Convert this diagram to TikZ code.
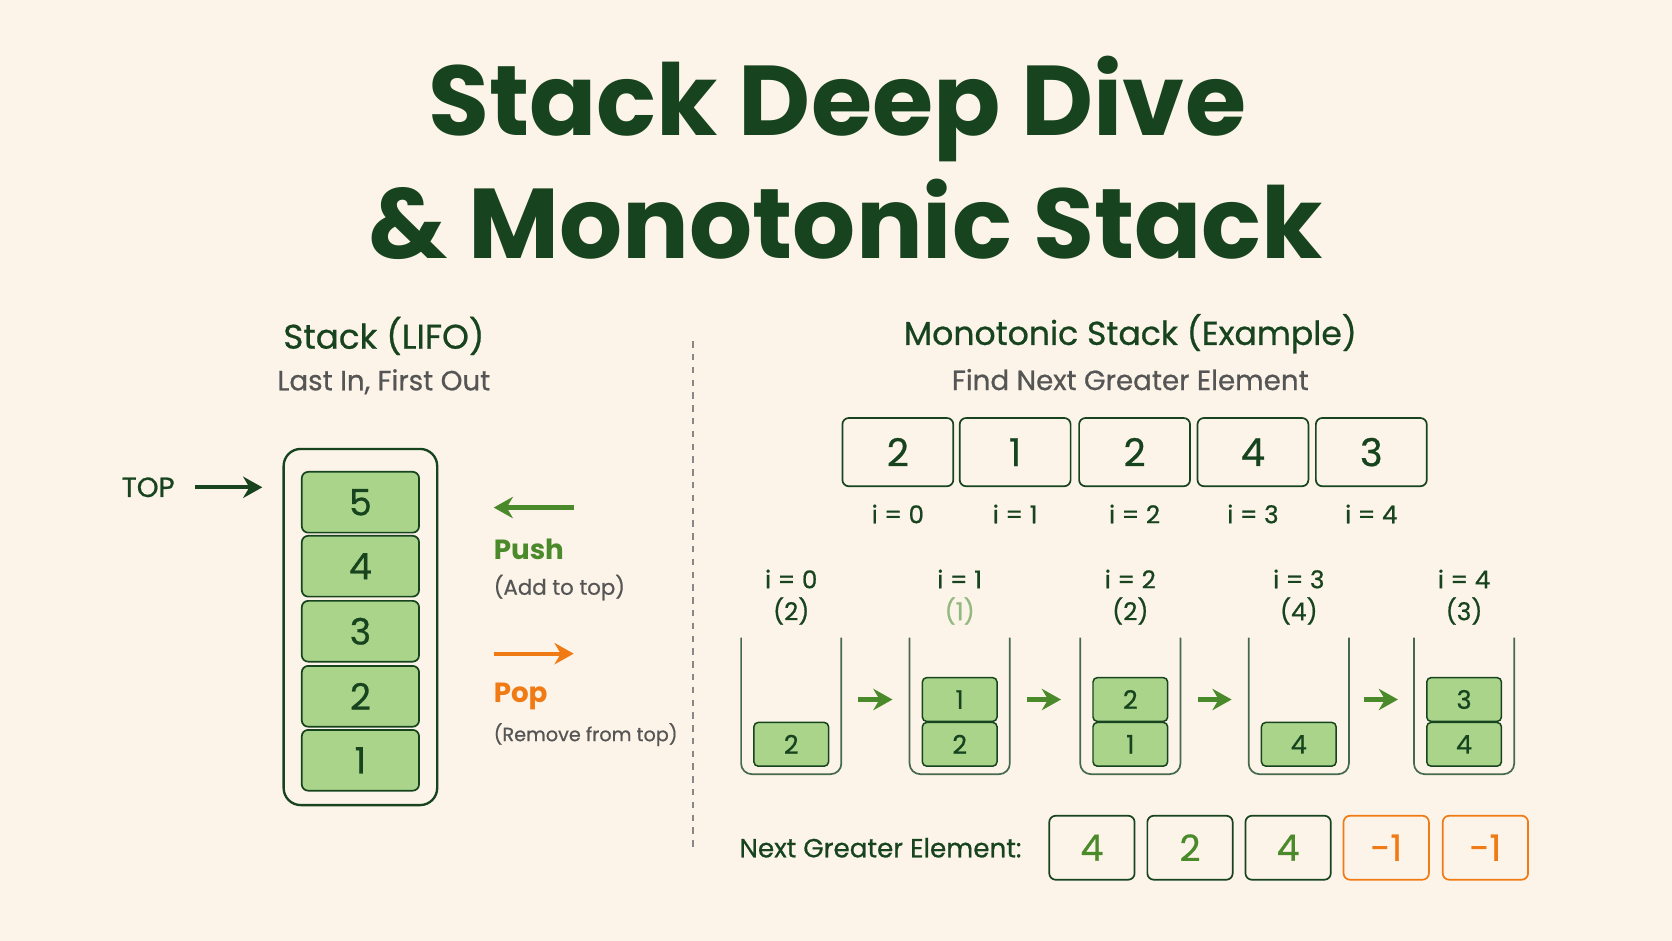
\documentclass[tikz,border=0pt]{standalone}
\usepackage{fontspec}
\setmainfont{Poppins}
\newfontfamily\med{Poppins}[FakeBold=0.7]
\usetikzlibrary{arrows.meta}
\definecolor{bg}{HTML}{FCF4E8}
\definecolor{dg}{HTML}{17441F}
\definecolor{lg}{HTML}{A9D48A}
\definecolor{gr}{HTML}{4A8A2A}
\definecolor{og}{HTML}{F07A14}
\definecolor{gy}{HTML}{555555}
\newcommand{\fs}[1]{\med\fontsize{#1}{#1}\selectfont}
\begin{document}
\begin{tikzpicture}[x=0.5pt,y=-0.5pt,
 cell/.style={draw=dg,line width=0.8pt,fill=lg,rounded corners=3pt,minimum width=55pt,minimum height=28.5pt,font=\fs{17},text=dg},
 scell/.style={draw=dg,line width=0.7pt,fill=lg,rounded corners=2pt,minimum width=35pt,minimum height=20.5pt,font=\fs{12},text=dg},
 abox/.style={draw=dg,line width=0.8pt,fill=bg,rounded corners=3pt,minimum width=52pt,minimum height=32pt,font=\fs{18},text=dg},
 rbox/.style={draw=dg,line width=0.8pt,fill=bg,rounded corners=3pt,minimum width=40pt,minimum height=30pt,font=\fs{17},text=gr},
 lbl/.style={font=\fs{11.5},text=dg},
 arr/.style={-{Stealth[length=9pt,width=10pt]},line width=2pt}]
\fill[bg] (0,0) rectangle (1568,882);
\useasboundingbox (0,0) rectangle (1568,882);
\node[font=\bfseries\fontsize{46.5}{46.5}\selectfont,text=dg] (t1) at (785,102) {Stack Deep Dive};
\node[font=\bfseries\fontsize{46.5}{46.5}\selectfont,text=dg] (t2) at (793,206) {\& Monotonic Stack};
% left
\node[font=\fs{16},text=dg] (sh) at (360,315) {Stack (LIFO)};
\node[font=\fs{13},text=gy] (ss) at (360,358) {Last In, First Out};
\draw[dg,line width=1.1pt,rounded corners=8pt] (266,421) rectangle (410,755);
\foreach \v/\y in {5/471,4/531,3/592,2/653,1/713}
  \node[cell] (c\v) at (338,\y) {\v};
\node[font=\fs{13},text=dg] (top) at (139,457) {TOP};
\coordinate (ts) at (183,457); \coordinate (te) at (246,457);
\draw[arr,dg] (ts) -- (te);
\coordinate (pa) at (538,476); \coordinate (pb) at (463,476);
\draw[arr,gr] (pa) -- (pb);
\node[anchor=west,font=\bfseries\fontsize{13}{13}\selectfont,text=gr] (push) at (456,515) {Push};
\node[anchor=west,font=\fs{10},text=gy] (pushs) at (456,551) {(Add to top)};
\coordinate (qa) at (463,613); \coordinate (qb) at (538,613);
\draw[arr,og] (qa) -- (qb);
\node[anchor=west,font=\bfseries\fontsize{13}{13}\selectfont,text=og] (pop) at (456,653) {Pop};
\node[anchor=west,font=\fs{9},text=gy] (pops) at (456,689) {(Remove from top)};
\draw[gy!70,dashed,line width=0.6pt] (650,320) -- (650,795);
% right
\node[font=\fs{15.5},text=dg] (mh) at (1060,313) {Monotonic Stack (Example)};
\node[font=\fs{13},text=gy] (ms) at (1060,356) {Find Next Greater Element};
\foreach \v/\x/\i in {2/842/0,1/952/1,2/1064/2,4/1175/3,3/1286/4}{
  \node[abox] (a\i) at (\x,424) {\v};
  \node[lbl] (ai\i) at (\x,482) {i = \i};}
\foreach \x/\i/\v in {742/0/2,900/1/1,1060/2/2,1218/3/4,1373/4/3}{
  \node[lbl] (si\i) at (\x,543) {i = \i};
  \draw[dg!80,line width=0.8pt,rounded corners=5pt] (\x-47,598) -- (\x-47,726) -- (\x+47,726) -- (\x+47,598);}
\foreach \x/\i/\v in {742/0/2,1060/2/2,1218/3/4,1373/4/3}
  \node[lbl] (sv\i) at (\x,573) {(\v)};
\node[lbl,text=gr!60] (sv1) at (900,573) {(1)};
\node[scell] (s0a) at (742,698) {2};
\node[scell] (s1a) at (900,698) {2}; \node[scell] (s1b) at (900,656) {1};
\node[scell] (s2a) at (1060,698) {1}; \node[scell] (s2b) at (1060,656) {2};
\node[scell] (s3a) at (1218,698) {4};
\node[scell] (s4a) at (1373,698) {4}; \node[scell] (s4b) at (1373,656) {3};
\foreach \x [count=\k] in {821,979,1139,1295}{
  \coordinate (g\k a) at (\x-16,656); \coordinate (g\k b) at (\x+16,656);
  \draw[arr,gr] (g\k a) -- (g\k b);}
\node[anchor=east,font=\fs{12.3},text=dg] (nge) at (965,795) {Next Greater Element:};
\node[rbox] (r0) at (1024,795) {4};
\node[rbox] (r1) at (1116,795) {2};
\node[rbox] (r2) at (1208,795) {4};
\node[rbox,draw=og,text=og] (r3) at (1300,795) {-1};
\node[rbox,draw=og,text=og] (r4) at (1393,795) {-1};
\end{tikzpicture}
\end{document}
